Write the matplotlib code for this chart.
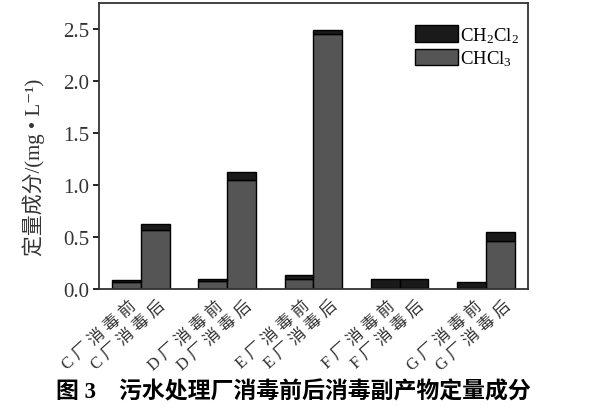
import numpy as np
import matplotlib
matplotlib.use('Agg')
import matplotlib.pyplot as plt
from matplotlib.transforms import ScaledTranslation

plt.rcParams['font.family'] = ['Liberation Serif', 'Noto Sans CJK SC', 'DejaVu Serif']
plt.rcParams['mathtext.fontset'] = 'custom'
plt.rcParams['mathtext.rm'] = 'Liberation Serif'
plt.rcParams['mathtext.default'] = 'rm'

labels = ['C厂消毒前', 'C厂消毒后', 'D厂消毒前', 'D厂消毒后', 'E厂消毒前',
          'E厂消毒后', 'F厂消毒前', 'F厂消毒后', 'G厂消毒前', 'G厂消毒后']
chcl3 = [0.07, 0.57, 0.075, 1.05, 0.10, 2.45, 0.01, 0.01, 0.01, 0.46]
ch2cl2 = [0.02, 0.06, 0.02, 0.075, 0.03, 0.045, 0.085, 0.085, 0.055, 0.087]

# pairs of bars, one empty slot between plants
x = []
for i in range(len(labels)):
    x.append(i + i // 2)
x = np.array(x)

fig = plt.figure(figsize=(5.93, 4.10), dpi=100)
ax = fig.add_axes([0.167, 0.2927, 0.723, 0.697])

ax.bar(x, chcl3, width=1.0, color='#555555', edgecolor='black', linewidth=1.0, label='CHCl$_3$')
ax.bar(x, ch2cl2, width=1.0, bottom=chcl3, color='#1a1a1a', edgecolor='black', linewidth=1.0, label='CH$_2$Cl$_2$')

ax.set_xlim(-0.95, 13.95)
ax.set_ylim(0, 2.75)
ax.set_yticks([0.0, 0.5, 1.0, 1.5, 2.0, 2.5])
ax.set_yticklabels(['0.0', '0.5', '1.0', '1.5', '2.0', '2.5'], fontsize=15, color='#333333')
ax.set_xticks(x)
# the original labels have wide letter spacing
spaced = [' '.join(s) for s in labels]
ax.set_xticklabels(spaced, rotation=42, ha='right', va='top', rotation_mode='anchor',
                   fontsize=12, color='#333333')
ax.tick_params(axis='x', length=0, pad=6)
ax.tick_params(axis='y', direction='out', length=4, width=1.2, pad=3)
for t in ax.get_xticklabels():
    t.set_transform(t.get_transform() + ScaledTranslation(0.03, 0, fig.dpi_scale_trans))
for s in ax.spines.values():
    s.set_linewidth(1.3)
    s.set_color('#333333')

ax.set_ylabel('定量成分/(mg • L⁻¹)', fontsize=15, color='#333333')
ax.yaxis.set_label_coords(-0.125, 0.43)

h, l = ax.get_legend_handles_labels()
leg = ax.legend(h[::-1], l[::-1], loc='upper right', fontsize=13.5, frameon=False,
                handlelength=2.3, handleheight=1.0, handletextpad=0.1, labelspacing=0.2,
                bbox_to_anchor=(1.01, 0.97), borderpad=0.2)

fig.text(0.495, 0.042, '图 3    污水处理厂消毒前后消毒副产物定量成分', ha='center', va='center',
         fontsize=16.5, fontweight='bold')

fig.savefig('out.png', dpi=100)
